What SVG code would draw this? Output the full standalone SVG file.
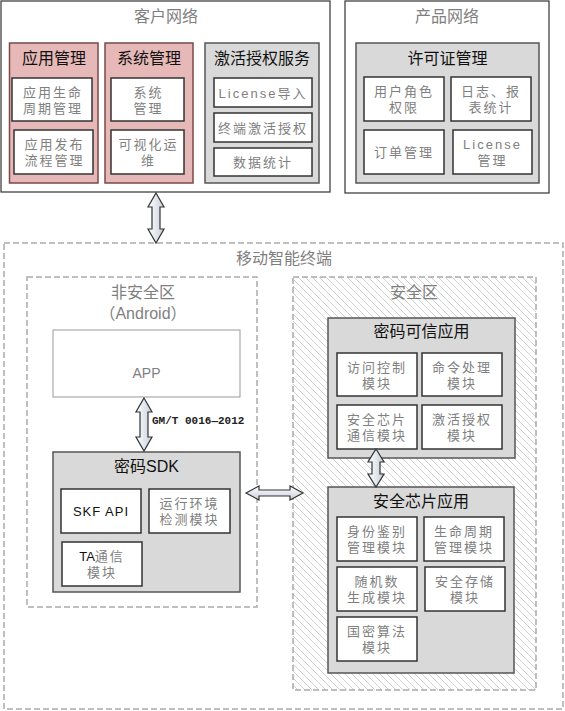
<svg xmlns="http://www.w3.org/2000/svg" width="565" height="711" viewBox="0 0 565 711">
<defs>
<style>
.frame{fill:#fff;stroke:#333;stroke-width:1.2}
.pink{fill:#e6b9b8;stroke:#7a4a4a;stroke-width:1.5}
.grey{fill:#d9d9d9;stroke:#555;stroke-width:1.5}
.mod{fill:#fff;stroke:#333;stroke-width:1.5}
.dash{fill:none;stroke:#aaa;stroke-width:1.5;stroke-dasharray:6 3}
.t{font-family:"Liberation Sans","Noto Sans CJK SC",sans-serif;text-anchor:middle}
.big{font-size:16px;fill:#7f7f7f}
.ttl{font-size:16px;fill:#111}
.m{font-size:13px;fill:#808080;letter-spacing:2px}
.arrow{fill:url(#ag);stroke:#333;stroke-width:1.2}
</style>
<linearGradient id="ag" x1="0" y1="0" x2="1" y2="0">
<stop offset="0" stop-color="#ffffff"/>
<stop offset="1" stop-color="#c8d0dc"/>
</linearGradient>
<linearGradient id="agv" x1="0" y1="0" x2="0" y2="1">
<stop offset="0" stop-color="#ffffff"/>
<stop offset="1" stop-color="#c8d0dc"/>
</linearGradient>
<pattern id="hatch" patternUnits="userSpaceOnUse" width="7" height="7">
<path d="M0,0 L7,7 M-1,6 L1,8 M6,-1 L8,1" stroke="#cfcfcf" stroke-width="1"/>
</pattern>
</defs>

<g id="customer-network">
<rect class="frame" x="1" y="1" width="329" height="191"/>
<text class="t big" x="166" y="22">客户网络</text>
</g>

<g id="app-mgmt">
<rect class="pink" x="9.5" y="43" width="88.5" height="140"/>
<text class="t ttl" x="54" y="64">应用管理</text>
<g id="app-lifecycle"><rect class="mod" x="12" y="78" width="80" height="43"/>
<text class="t m" x="53" y="96.5">应用生命<tspan x="53" dy="16">周期管理</tspan></text></g>
<g id="app-release"><rect class="mod" x="14" y="130" width="79" height="44"/>
<text class="t m" x="54.5" y="148.5">应用发布<tspan x="54.5" dy="16">流程管理</tspan></text></g>
</g>

<g id="sys-mgmt">
<rect class="pink" x="105" y="43" width="88" height="140"/>
<text class="t ttl" x="149" y="64">系统管理</text>
<g id="sys-mgmt-mod"><rect class="mod" x="111" y="78" width="73" height="43"/>
<text class="t m" x="148.5" y="96.5">系统<tspan x="148.5" dy="16">管理</tspan></text></g>
<g id="visual-ops"><rect class="mod" x="111" y="130" width="73" height="44"/>
<text class="t m" x="148.5" y="148.5">可视化运<tspan x="148.5" dy="16">维</tspan></text></g>
</g>

<g id="activation-service">
<rect class="grey" x="205" y="43" width="114" height="140"/>
<text class="t ttl" x="262" y="64">激活授权服务</text>
<g id="license-import"><rect class="mod" x="214" y="78" width="98" height="29"/>
<text class="t m" x="263" y="97.5">License导入</text></g>
<g id="terminal-activation"><rect class="mod" x="214" y="113" width="98" height="29"/>
<text class="t m" x="263" y="132.5">终端激活授权</text></g>
<g id="data-stats"><rect class="mod" x="214" y="148" width="98" height="28"/>
<text class="t m" x="263" y="167">数据统计</text></g>
</g>

<g id="product-network">
<rect class="frame" x="345" y="1" width="204" height="192"/>
<text class="t big" x="447" y="22">产品网络</text>
</g>

<g id="license-mgmt">
<rect class="grey" x="356" y="43" width="183" height="140"/>
<text class="t ttl" x="447.5" y="64">许可证管理</text>
<g id="user-role"><rect class="mod" x="364" y="77" width="80" height="44"/>
<text class="t m" x="404" y="95.5">用户角色<tspan x="404" dy="16">权限</tspan></text></g>
<g id="log-report"><rect class="mod" x="451" y="77" width="80" height="44"/>
<text class="t m" x="491" y="95.5">日志、报<tspan x="491" dy="16">表统计</tspan></text></g>
<g id="order-mgmt"><rect class="mod" x="364" y="130" width="80" height="44"/>
<text class="t m" x="404" y="156.5">订单管理</text></g>
<g id="license-mod"><rect class="mod" x="453" y="130" width="79" height="44"/>
<text class="t m" x="492.5" y="148.5">License<tspan x="492.5" dy="16">管理</tspan></text></g>
</g>

<g id="mobile-terminal">
<rect class="dash" x="4" y="243" width="559" height="466"/>
<text class="t big" x="284" y="264">移动智能终端</text>
</g>

<g id="non-secure-zone">
<rect class="dash" x="27" y="277" width="230" height="330"/>
<text class="t big" x="143" y="297.5">非安全区<tspan x="143" dy="21">（Android）</tspan></text>
</g>

<g id="app">
<rect x="53" y="330" width="187" height="67" fill="#fff" stroke="#999" stroke-width="1"/>
<text class="t" x="146.5" y="378" font-size="14" fill="#7f7f7f">APP</text>
</g>

<g id="crypto-sdk">
<rect class="grey" x="53" y="452" width="187" height="140"/>
<text class="t ttl" x="146.5" y="472">密码SDK</text>
<g id="skf-api"><rect class="mod" x="61" y="489" width="80" height="44"/>
<text class="t" x="101" y="516" font-size="13" fill="#111" letter-spacing="1">SKF API</text></g>
<g id="env-detect"><rect class="mod" x="149" y="489" width="81" height="44"/>
<text class="t m" x="189.5" y="507.5">运行环境<tspan x="189.5" dy="16">检测模块</tspan></text></g>
<g id="ta-comm"><rect class="mod" x="62" y="542" width="80" height="44"/>
<text class="t m" x="102" y="560.5"><tspan fill="#111" letter-spacing="0">TA</tspan>通信<tspan x="102" dy="16">模块</tspan></text></g>
</g>

<g id="secure-zone">
<rect x="293" y="277" width="243" height="413" fill="url(#hatch)" stroke="#aaa" stroke-width="1.5" stroke-dasharray="6 3"/>
<text class="t big" x="414" y="297.5">安全区</text>
</g>

<g id="trusted-app">
<rect class="grey" x="328" y="318" width="187" height="140"/>
<text class="t ttl" x="421.5" y="337">密码可信应用</text>
<g id="access-ctrl"><rect class="mod" x="337" y="353" width="80" height="43"/>
<text class="t m" x="377" y="371.5">访问控制<tspan x="377" dy="16">模块</tspan></text></g>
<g id="cmd-proc"><rect class="mod" x="422" y="353" width="80" height="43"/>
<text class="t m" x="462" y="371.5">命令处理<tspan x="462" dy="16">模块</tspan></text></g>
<g id="chip-comm"><rect class="mod" x="337" y="405" width="80" height="44"/>
<text class="t m" x="377" y="423.5">安全芯片<tspan x="377" dy="16">通信模块</tspan></text></g>
<g id="activation-mod"><rect class="mod" x="422" y="405" width="80" height="44"/>
<text class="t m" x="462" y="423.5">激活授权<tspan x="462" dy="16">模块</tspan></text></g>
</g>

<g id="chip-app">
<rect class="grey" x="328" y="487" width="186" height="186"/>
<text class="t ttl" x="421" y="507">安全芯片应用</text>
<g id="identity"><rect class="mod" x="337" y="517" width="80" height="44"/>
<text class="t m" x="377" y="535.5">身份鉴别<tspan x="377" dy="16">管理模块</tspan></text></g>
<g id="lifecycle"><rect class="mod" x="424" y="517" width="80" height="44"/>
<text class="t m" x="464" y="535.5">生命周期<tspan x="464" dy="16">管理模块</tspan></text></g>
<g id="rng"><rect class="mod" x="337" y="567" width="80" height="44"/>
<text class="t m" x="377" y="585.5">随机数<tspan x="377" dy="16">生成模块</tspan></text></g>
<g id="secure-storage"><rect class="mod" x="425" y="567" width="80" height="44"/>
<text class="t m" x="465" y="585.5">安全存储<tspan x="465" dy="16">模块</tspan></text></g>
<g id="sm-algo"><rect class="mod" x="337" y="617" width="80" height="44"/>
<text class="t m" x="377" y="635.5">国密算法<tspan x="377" dy="16">模块</tspan></text></g>
</g>

<g id="connectors">
<path class="arrow" d="M156,193 L164,207 L160,207 L160,229 L164,229 L156,243 L148,229 L152,229 L152,207 L148,207 Z"/>
<path class="arrow" d="M144,398 L152,412 L148,412 L148,437 L152,437 L144,451 L136,437 L140,437 L140,412 L136,412 Z"/>
<text x="152" y="424" font-family="Liberation Mono, monospace" font-size="11" font-weight="bold" fill="#222">GM/T 0016—2012</text>
<path d="M246,493 L259,486 L259,490 L290,490 L290,486 L303,493 L290,500 L290,496 L259,496 L259,500 Z" fill="url(#agv)" stroke="#333" stroke-width="1.2"/>
<path class="arrow" d="M376,449 L384,462 L380,462 L380,474 L384,474 L376,487 L368,474 L372,474 L372,462 L368,462 Z"/>
</g>
</svg>
